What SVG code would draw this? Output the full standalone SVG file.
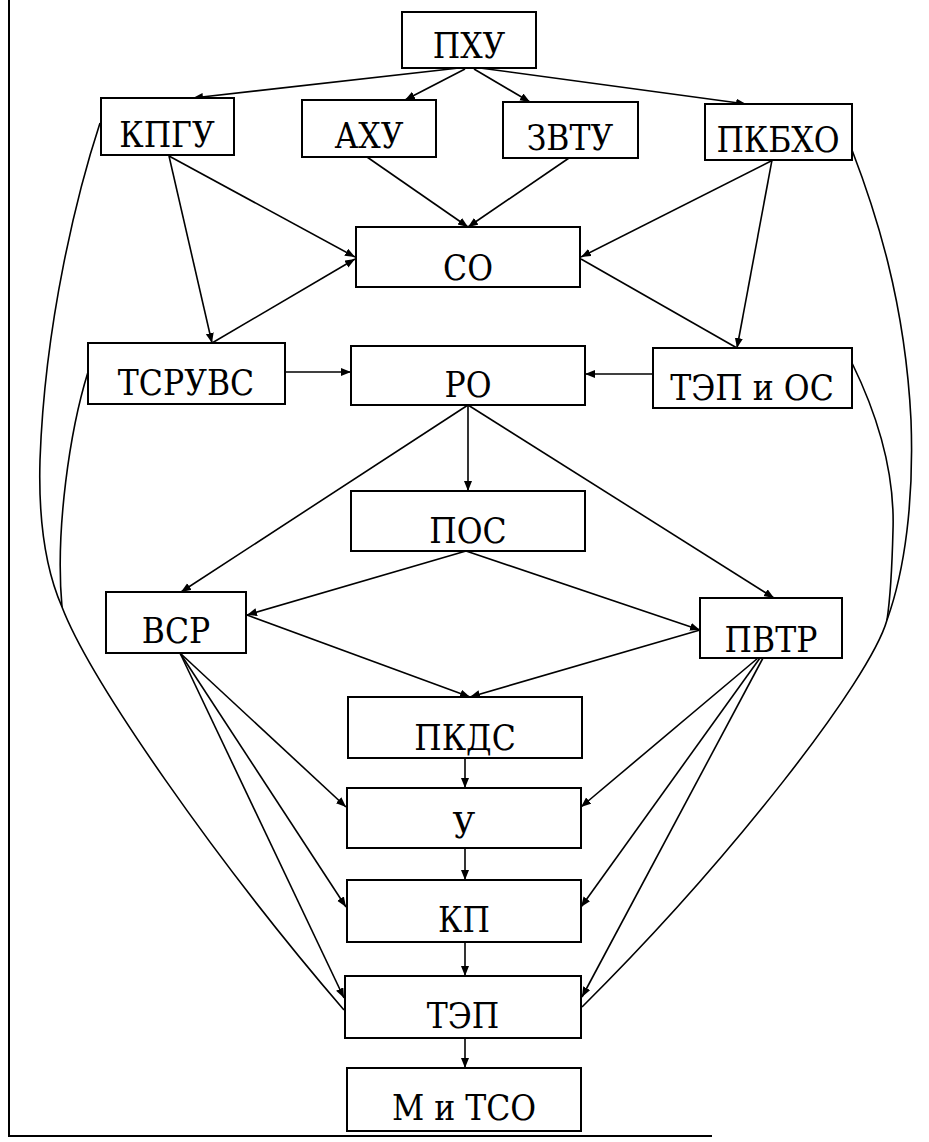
<svg xmlns="http://www.w3.org/2000/svg" width="929" height="1142" viewBox="0 0 929 1142">
<style>
.box{fill:#fff;stroke:#000;stroke-width:2}
.lbl{font-family:"DejaVu Serif Condensed","DejaVu Serif",serif;font-stretch:condensed;font-size:35px;fill:#000;text-anchor:middle}
.c{fill:none;stroke:#000;stroke-width:1.6}
.a{marker-end:url(#ah)}
.frame{fill:none;stroke:#000;stroke-width:2}
</style>
<defs>
<marker id="ah" markerUnits="userSpaceOnUse" markerWidth="11" markerHeight="9" refX="10" refY="4" orient="auto">
<path d="M0,0 L10,4 L0,8 z" fill="#000"/>
</marker>
</defs>
<rect width="929" height="1142" fill="#fff"/>
<path class="frame" d="M9,0 L9,1136 L712,1136"/>

<g id="connectors">
<line class="c a" x1="459" y1="68" x2="193" y2="98"/>
<line class="c a" x1="465" y1="69" x2="405" y2="100"/>
<line class="c a" x1="474" y1="69" x2="530" y2="102"/>
<line class="c a" x1="480" y1="68" x2="746" y2="104"/>
<line class="c a" x1="169" y1="156" x2="355" y2="257"/>
<line class="c a" x1="169" y1="156" x2="212" y2="343"/>
<line class="c a" x1="367" y1="157" x2="468" y2="227"/>
<line class="c a" x1="569" y1="158" x2="468" y2="227"/>
<line class="c a" x1="773" y1="160" x2="581" y2="257"/>
<line class="c a" x1="772" y1="160" x2="737" y2="348"/>
<line class="c a" x1="212" y1="343" x2="355" y2="259"/>
<line class="c" x1="581" y1="259" x2="737" y2="348"/>
<line class="c a" x1="285" y1="372" x2="351" y2="372"/>
<line class="c a" x1="653" y1="374" x2="585" y2="374"/>
<line class="c a" x1="468" y1="405" x2="468" y2="491"/>
<line class="c a" x1="468" y1="405" x2="181" y2="592"/>
<line class="c a" x1="468" y1="405" x2="774" y2="598"/>
<line class="c a" x1="466" y1="551" x2="247" y2="615"/>
<line class="c a" x1="466" y1="551" x2="700" y2="630"/>
<line class="c a" x1="247" y1="615" x2="470" y2="697"/>
<line class="c a" x1="700" y1="630" x2="470" y2="697"/>
<line class="c a" x1="465" y1="758" x2="465" y2="788"/>
<line class="c a" x1="465" y1="848" x2="465" y2="880"/>
<line class="c a" x1="465" y1="942" x2="465" y2="976"/>
<line class="c a" x1="465" y1="1038" x2="465" y2="1068"/>
<line class="c a" x1="180" y1="653" x2="346" y2="807"/>
<line class="c a" x1="180" y1="653" x2="346" y2="907"/>
<line class="c a" x1="180" y1="653" x2="344" y2="998"/>
<line class="c a" x1="758" y1="658" x2="581" y2="807"/>
<line class="c a" x1="760" y1="658" x2="581" y2="907"/>
<line class="c a" x1="763" y1="658" x2="582" y2="997"/>
<path class="c" d="M100,123 C78,190 45,320 40,460 C38,530 48,575 62,607 C90,680 215,860 344,1010"/>
<path class="c" d="M88,372 C70,430 55,530 62,607"/>
<path class="c" d="M852,150 C875,210 905,300 911,420 C914,500 905,570 887,620 C870,680 730,860 582,1007"/>
<path class="c" d="M852,363 C875,410 895,470 893,530 C892,570 890,600 887,620"/>
</g>

<g id="n-pxu"><rect class="box" x="402" y="12" width="134" height="56"/><text class="lbl" x="469" y="58">ПХУ</text></g>
<g id="n-kpgu"><rect class="box" x="101" y="98" width="133" height="57"/><text class="lbl" x="167" y="147">КПГУ</text></g>
<g id="n-axu"><rect class="box" x="302" y="100" width="134" height="57"/><text class="lbl" x="369" y="148">АХУ</text></g>
<g id="n-zvtu"><rect class="box" x="503" y="102" width="135" height="56"/><text class="lbl" x="570" y="150">ЗВТУ</text></g>
<g id="n-pkbxo"><rect class="box" x="705" y="104" width="147" height="56"/><text class="lbl" x="778" y="152">ПКБХО</text></g>
<g id="n-so"><rect class="box" x="356" y="227" width="224" height="60"/><text class="lbl" x="468" y="280">СО</text></g>
<g id="n-tsruvs"><rect class="box" x="88" y="343" width="197" height="61"/><text class="lbl" x="186" y="395">ТСРУВС</text></g>
<g id="n-ro"><rect class="box" x="351" y="346" width="234" height="59"/><text class="lbl" x="468" y="397">РО</text></g>
<g id="n-tepos"><rect class="box" x="653" y="348" width="199" height="60"/><text class="lbl" x="752" y="400">ТЭП и ОС</text></g>
<g id="n-pos"><rect class="box" x="351" y="491" width="234" height="60"/><text class="lbl" x="468" y="543">ПОС</text></g>
<g id="n-vsr"><rect class="box" x="106" y="592" width="140" height="61"/><text class="lbl" x="176" y="643">ВСР</text></g>
<g id="n-pvtr"><rect class="box" x="700" y="598" width="142" height="60"/><text class="lbl" x="771" y="652">ПВТР</text></g>
<g id="n-pkds"><rect class="box" x="348" y="697" width="234" height="61"/><text class="lbl" x="465" y="750">ПКДС</text></g>
<g id="n-u"><rect class="box" x="347" y="788" width="234" height="60"/><text class="lbl" x="464" y="838">У</text></g>
<g id="n-kp"><rect class="box" x="347" y="880" width="234" height="62"/><text class="lbl" x="464" y="932">КП</text></g>
<g id="n-tep"><rect class="box" x="345" y="976" width="236" height="62"/><text class="lbl" x="463" y="1028">ТЭП</text></g>
<g id="n-mtso"><rect class="box" x="347" y="1068" width="234" height="63"/><text class="lbl" x="464" y="1120">М и ТСО</text></g>
</svg>
